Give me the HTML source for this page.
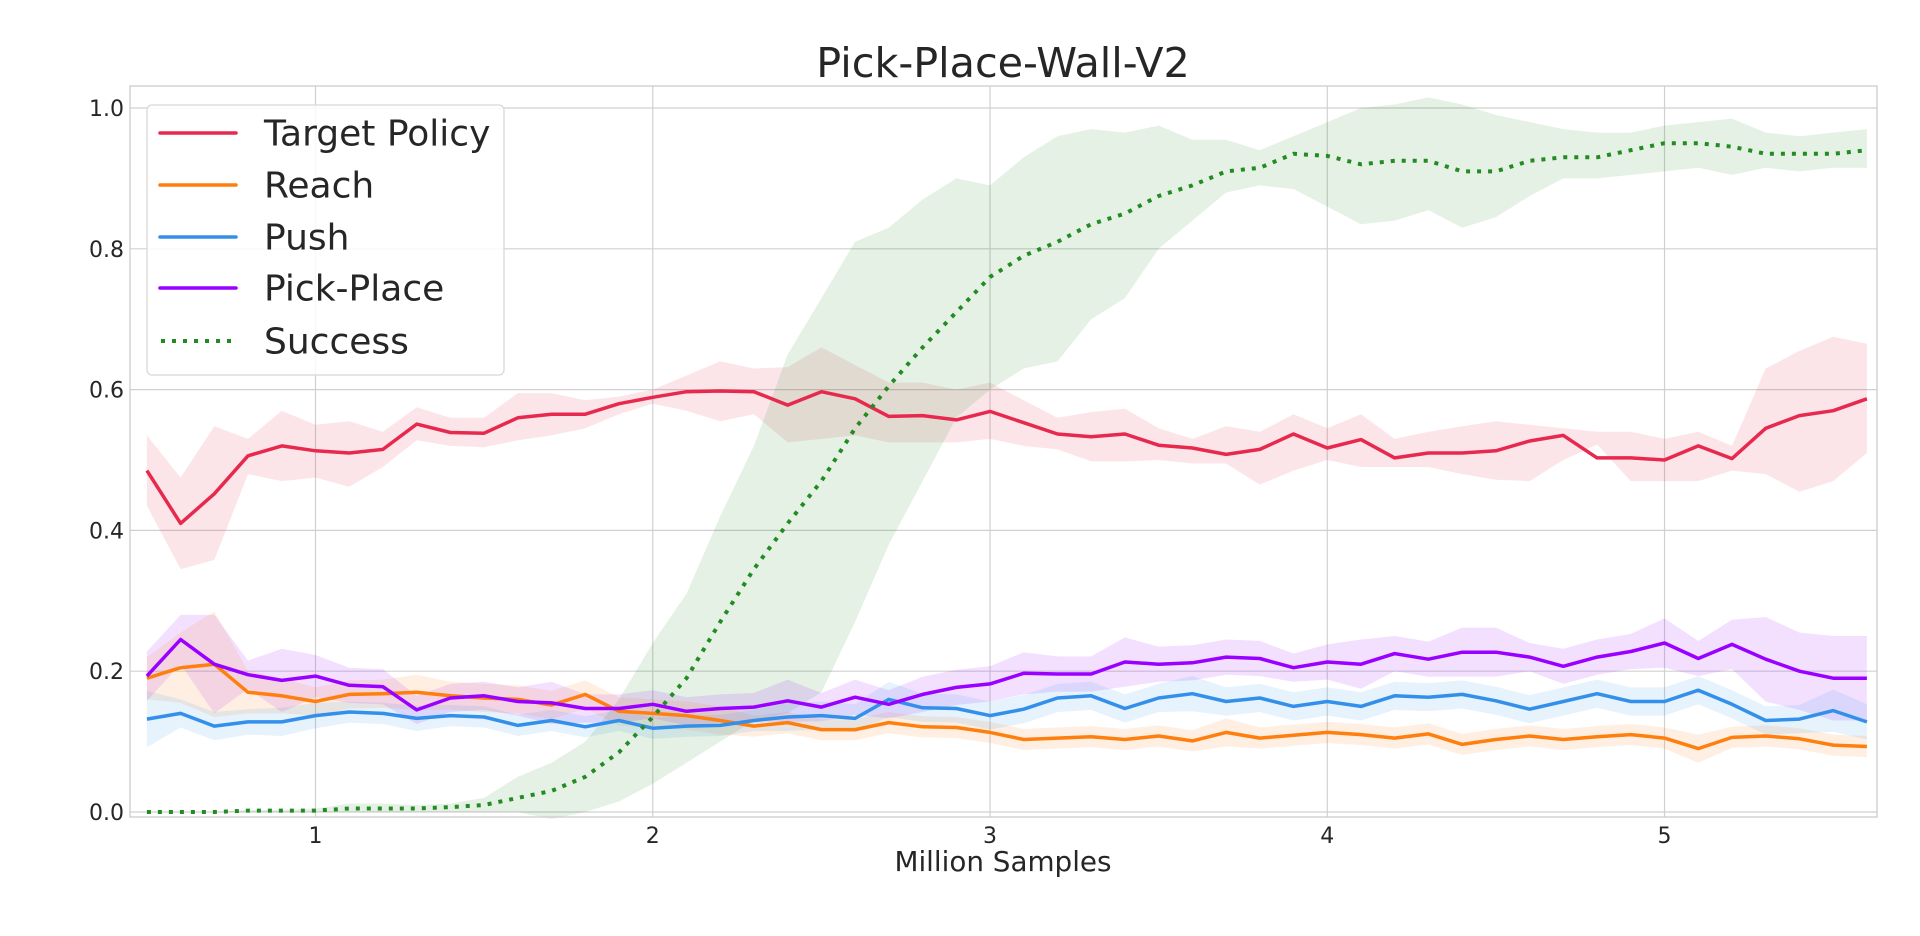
<!DOCTYPE html>
<html><head><meta charset="utf-8"><style>
html,body{margin:0;padding:0;background:#fff;}
svg{display:block;font-family:"DejaVu Sans","Liberation Sans",sans-serif;}
</style></head><body>
<svg id="chart" width="1920" height="936" xmlns="http://www.w3.org/2000/svg">
<rect x="0" y="0" width="1920" height="936" fill="#fff"/>
<g id="grid"></g>
<g id="bands"></g>
<g id="lines"></g>
<rect x="130" y="86" width="1747" height="731" fill="none" stroke="#cccccc" stroke-width="1.3"/>
<g id="ticks" fill="#262626" font-size="22"></g>
<text x="1003" y="77" text-anchor="middle" font-size="41.3" fill="#262626">Pick-Place-Wall-V2</text>
<text x="1003" y="871" text-anchor="middle" font-size="27.8" fill="#262626">Million Samples</text>
<g>
<rect x="147" y="105" width="357" height="270" rx="5" fill="#fff" fill-opacity="0.85" stroke="#d8d8d8" stroke-width="1.3"/>
<line x1="160" y1="133" x2="236" y2="133" stroke="#e8294e" stroke-width="3.5" stroke-linecap="round"/>
<text x="264" y="145.5" font-size="36" fill="#262626">Target Policy</text>
<line x1="160" y1="185" x2="236" y2="185" stroke="#ff7f0e" stroke-width="3.5" stroke-linecap="round"/>
<text x="264" y="197.5" font-size="36" fill="#262626">Reach</text>
<line x1="160" y1="237" x2="236" y2="237" stroke="#3390ea" stroke-width="3.5" stroke-linecap="round"/>
<text x="264" y="249.5" font-size="36" fill="#262626">Push</text>
<line x1="160" y1="288" x2="236" y2="288" stroke="#9900ff" stroke-width="3.5" stroke-linecap="round"/>
<text x="264" y="300.5" font-size="36" fill="#262626">Pick-Place</text>
<line x1="161" y1="341" x2="236" y2="341" stroke="#228b22" stroke-width="4" stroke-dasharray="4 7"/>
<text x="264" y="353.5" font-size="36" fill="#262626">Success</text>
</g>
</svg>
<script>
const xStart = 0.5, xStep = 0.1;
const targetMean = [0.485,0.41,0.452,0.506,0.52,0.513,0.51,0.515,0.551,0.539,0.538,0.56,0.565,0.565,0.58,0.589,0.597,0.598,0.597,0.578,0.597,0.587,0.562,0.563,0.557,0.569,0.553,0.537,0.533,0.537,0.521,0.517,0.508,0.515,0.537,0.517,0.529,0.503,0.51,0.51,0.513,0.527,0.535,0.503,0.503,0.5,0.52,0.502,0.545,0.563,0.57,0.587];
const targetUpper = [0.535,0.475,0.548,0.53,0.57,0.55,0.555,0.54,0.575,0.56,0.56,0.595,0.595,0.585,0.59,0.6,0.62,0.64,0.63,0.632,0.66,0.635,0.61,0.61,0.6,0.61,0.585,0.56,0.568,0.573,0.545,0.53,0.548,0.54,0.565,0.545,0.565,0.53,0.54,0.548,0.555,0.55,0.545,0.54,0.54,0.53,0.54,0.52,0.63,0.655,0.675,0.665];
const targetLower = [0.435,0.345,0.358,0.48,0.47,0.475,0.462,0.49,0.528,0.52,0.518,0.528,0.535,0.545,0.565,0.58,0.57,0.555,0.565,0.525,0.53,0.535,0.525,0.525,0.525,0.53,0.52,0.515,0.498,0.498,0.5,0.495,0.495,0.465,0.485,0.5,0.49,0.49,0.49,0.48,0.472,0.47,0.5,0.522,0.47,0.47,0.47,0.485,0.48,0.455,0.47,0.51];
const successMean = [0,0,0,0.002,0.002,0.002,0.005,0.005,0.005,0.007,0.01,0.02,0.03,0.05,0.085,0.135,0.19,0.27,0.345,0.41,0.47,0.545,0.605,0.66,0.71,0.76,0.79,0.81,0.835,0.85,0.875,0.89,0.91,0.915,0.935,0.932,0.92,0.925,0.925,0.91,0.91,0.925,0.93,0.93,0.94,0.95,0.95,0.945,0.935,0.935,0.935,0.94];
const successUpper = [0,0,0,0.003,0.003,0.005,0.012,0.012,0.01,0.012,0.02,0.05,0.07,0.1,0.16,0.24,0.31,0.42,0.52,0.65,0.73,0.81,0.83,0.87,0.9,0.89,0.93,0.96,0.97,0.965,0.975,0.955,0.955,0.94,0.96,0.98,1.0,1.005,1.015,1.005,0.99,0.98,0.97,0.965,0.965,0.975,0.98,0.985,0.965,0.96,0.965,0.97];
const successLower = [0,0,0,0,0,0,0,0,0,0,0,0,-0.01,0,0.015,0.04,0.07,0.1,0.13,0.14,0.17,0.27,0.38,0.47,0.56,0.6,0.63,0.64,0.7,0.73,0.8,0.84,0.88,0.89,0.885,0.86,0.835,0.84,0.855,0.83,0.845,0.875,0.9,0.9,0.905,0.91,0.915,0.905,0.915,0.91,0.915,0.915];
const pickMean = [0.193,0.245,0.21,0.195,0.187,0.193,0.18,0.178,0.145,0.162,0.165,0.157,0.155,0.147,0.147,0.153,0.143,0.147,0.149,0.158,0.149,0.163,0.153,0.167,0.177,0.182,0.197,0.196,0.196,0.213,0.21,0.212,0.22,0.218,0.205,0.213,0.21,0.225,0.217,0.227,0.227,0.22,0.207,0.22,0.228,0.24,0.218,0.238,0.217,0.2,0.19,0.19];
const pickSpread = [0.035,0.035,0.07,0.02,0.045,0.03,0.025,0.025,0.02,0.02,0.02,0.02,0.03,0.02,0.02,0.02,0.02,0.02,0.02,0.03,0.02,0.025,0.02,0.025,0.025,0.025,0.03,0.025,0.025,0.035,0.025,0.025,0.025,0.025,0.02,0.025,0.035,0.025,0.025,0.035,0.035,0.02,0.025,0.025,0.025,0.035,0.025,0.035,0.06,0.055,0.06,0.06];
const reachMean = [0.19,0.205,0.21,0.17,0.165,0.157,0.167,0.168,0.17,0.165,0.162,0.16,0.152,0.167,0.143,0.14,0.137,0.13,0.122,0.127,0.117,0.117,0.127,0.121,0.12,0.113,0.103,0.105,0.107,0.103,0.108,0.101,0.113,0.105,0.109,0.113,0.11,0.105,0.111,0.096,0.103,0.108,0.103,0.107,0.11,0.105,0.09,0.106,0.108,0.104,0.095,0.093];
const reachSpread = [0.03,0.05,0.075,0.03,0.025,0.02,0.02,0.02,0.025,0.02,0.02,0.02,0.02,0.02,0.02,0.02,0.02,0.02,0.015,0.015,0.015,0.015,0.015,0.015,0.015,0.015,0.015,0.015,0.015,0.015,0.015,0.015,0.02,0.015,0.015,0.015,0.015,0.015,0.015,0.015,0.015,0.015,0.015,0.015,0.015,0.015,0.02,0.015,0.015,0.015,0.015,0.015];
const pushMean = [0.132,0.14,0.122,0.128,0.128,0.137,0.142,0.14,0.133,0.137,0.135,0.123,0.13,0.121,0.13,0.119,0.122,0.123,0.13,0.135,0.137,0.133,0.16,0.148,0.147,0.137,0.146,0.162,0.165,0.147,0.162,0.168,0.157,0.162,0.15,0.157,0.15,0.165,0.163,0.167,0.158,0.146,0.157,0.168,0.157,0.157,0.173,0.153,0.13,0.132,0.144,0.128];
const pushSpread = [0.04,0.02,0.02,0.018,0.02,0.018,0.015,0.015,0.018,0.015,0.015,0.015,0.015,0.015,0.015,0.015,0.015,0.015,0.015,0.02,0.02,0.02,0.025,0.02,0.02,0.02,0.02,0.02,0.02,0.02,0.02,0.025,0.02,0.02,0.02,0.02,0.02,0.02,0.02,0.02,0.02,0.02,0.02,0.02,0.02,0.02,0.02,0.02,0.02,0.02,0.03,0.025];
const yTicks = [0.0,0.2,0.4,0.6,0.8,1.0];
const yTickLabels = ["0.0","0.2","0.4","0.6","0.8","1.0"];
const xTicks = [1,2,3,4,5];
const xTickLabels = ["1","2","3","4","5"];

const X0=130, X1=1877, XMIN=0.45, XMAX=5.63;
const Y0=812, Y1=108;
function sx(v){return X0+(v-XMIN)/(XMAX-XMIN)*(X1-X0);}
function sy(v){return Y0+(v)*(Y1-Y0);}
const NS='http://www.w3.org/2000/svg';
function mk(tag,parent,attrs){const e=document.createElementNS(NS,tag);for(const k in attrs)e.setAttribute(k,attrs[k]);parent.appendChild(e);return e;}
const grid=document.getElementById('grid'), ticks=document.getElementById('ticks');
yTicks.forEach((t,i)=>{
  const l=mk('line',grid,{x1:X0,x2:X1,y1:sy(t),y2:sy(t),stroke:'#d0d0d0','stroke-width':1.2});
  
  
  const tx=mk('text',ticks,{x:124,y:sy(t)+8,'text-anchor':'end'});
  tx.textContent=yTickLabels[i];
  
  
});
xTicks.forEach((t,i)=>{
  const l=mk('line',grid,{x1:sx(t),x2:sx(t),y1:86,y2:817,stroke:'#d0d0d0','stroke-width':1.2});
  
  
  const tx=mk('text',ticks,{x:sx(t),y:843,'text-anchor':'middle'});
  tx.textContent=xTickLabels[i];
  
  
});
const bands=document.getElementById('bands'), lines=document.getElementById('lines');
function band(up,lo,color,name){
  let d='';
  up.forEach((v,i)=>{d+=(i?'L':'M')+sx(xStart+i*xStep).toFixed(1)+','+sy(v).toFixed(1);});
  for(let i=lo.length-1;i>=0;i--){d+='L'+sx(xStart+i*xStep).toFixed(1)+','+sy(lo[i]).toFixed(1);}
  const p=mk('path',bands,{d:d+'Z',fill:color,'fill-opacity':0.12,stroke:'none'});
  
  
}
function line(vals,color,name,dash){
  const pts=vals.map((v,i)=>sx(xStart+i*xStep).toFixed(1)+','+sy(v).toFixed(1)).join(' ');
  const a={points:pts,fill:'none',stroke:color,'stroke-width':dash?4:3.5,'stroke-linejoin':'round'};
  if(dash)a['stroke-dasharray']='4 7';
  const p=mk('polyline',lines,a);
  
  
}
band(targetUpper,targetLower,'#e8294e','target-policy-band');
band(successUpper,successLower,'#228b22','success-band');
band(pickMean.map((v,i)=>v+pickSpread[i]),pickMean.map((v,i)=>v-pickSpread[i]),'#9900ff','pick-place-band');
band(reachMean.map((v,i)=>v+reachSpread[i]),reachMean.map((v,i)=>v-reachSpread[i]),'#ff7f0e','reach-band');
band(pushMean.map((v,i)=>v+pushSpread[i]),pushMean.map((v,i)=>v-pushSpread[i]),'#3390ea','push-band');
line(targetMean,'#e8294e','target-policy-line');
line(reachMean,'#ff7f0e','reach-line');
line(pushMean,'#3390ea','push-line');
line(pickMean,'#9900ff','pick-place-line');
line(successMean,'#228b22','success-line',true);
</script>
</body></html>
